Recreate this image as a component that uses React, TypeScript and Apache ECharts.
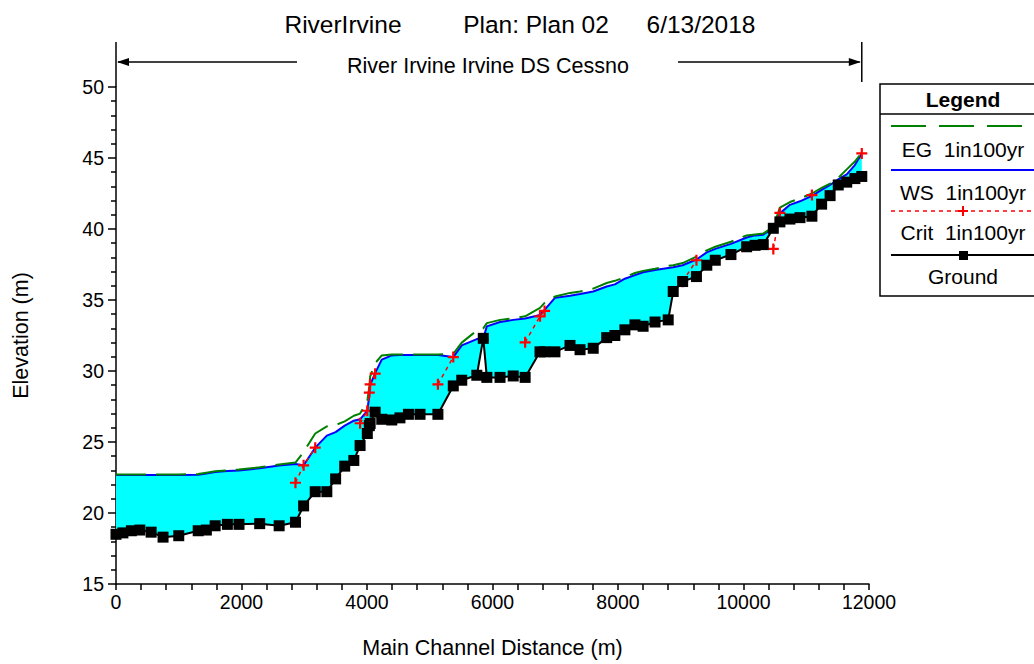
import React, { useEffect, useRef } from "react";
import * as echarts from "echarts";

const FONT = "'Liberation Sans', Arial, sans-serif";

const stations = [
  0, 110, 245, 380, 560, 750, 1000, 1310, 1440, 1580, 1775, 1960, 2290, 2600, 2860,
  2990, 3175, 3360, 3500, 3645, 3790, 3890, 4005, 4037, 4050, 4130, 4235, 4395, 4525,
  4660, 4845, 5130, 5375, 5510, 5750, 5853, 5910, 6120, 6330, 6520, 6757, 6830, 6995,
  7235, 7395, 7605, 7820, 7950, 8110, 8270, 8400, 8590, 8800, 8880, 9030, 9250, 9415,
  9550, 9800, 10050, 10185, 10315, 10475, 10580, 10740, 10900, 11090, 11245, 11380,
  11510, 11645, 11775, 11885,
];

const ground = [
  18.5, 18.6, 18.75, 18.8, 18.65, 18.3, 18.4, 18.75, 18.8, 19.1, 19.2, 19.2, 19.25, 19.1, 19.35,
  20.5, 21.5, 21.5, 22.4, 23.3, 23.7, 24.75, 25.6, 26.15, 26.3, 27.1, 26.6, 26.55, 26.7,
  26.95, 26.95, 26.95, 28.95, 29.35, 29.7, 32.3, 29.55, 29.55, 29.65, 29.55, 31.35, 31.35, 31.35,
  31.8, 31.5, 31.6, 32.35, 32.5, 32.9, 33.25, 33.15, 33.45, 33.6, 35.6, 36.3, 36.65, 37.45,
  37.8, 38.2, 38.75, 38.85, 38.9, 40.05, 40.5, 40.7, 40.8, 40.9, 41.75, 42.35,
  43.1, 43.3, 43.55, 43.7,
];

const ws = [
  22.68, 22.68, 22.68, 22.68, 22.68, 22.68, 22.68, 22.7, 22.78, 22.88, 22.95, 23.0, 23.15, 23.35, 23.45,
  23.36, 24.6, 25.45, 25.7, 26.15, 26.5, 26.6, 27.2, 28.3, 29.0, 29.85, 30.8, 31.1, 31.12,
  31.12, 31.12, 31.12, 30.98, 31.8, 32.25, 32.3, 33.14, 33.45, 33.6, 33.7, 33.95, 34.3, 35.15,
  35.3, 35.42, 35.6, 35.95, 36.1, 36.5, 36.75, 36.95, 37.12, 37.25, 37.3, 37.45, 37.85, 38.35,
  38.6, 38.95, 39.4, 39.55, 39.6, 40.1, 41.1, 41.7, 41.95, 42.33, 42.75, 43.1,
  43.5, 43.85, 44.5, 45.32,
];

const eg = [
  22.71, 22.71, 22.71, 22.71, 22.71, 22.71, 22.71, 22.74, 22.84, 22.94, 23.0, 23.06, 23.22, 23.42, 23.55,
  24.3, 25.6, 26.1, 26.2, 26.45, 26.85, 27.0, 27.9, 28.9, 29.6, 30.55, 31.1, 31.16, 31.16,
  31.16, 31.16, 31.16, 31.2, 32.0, 32.85, 33.0, 33.37, 33.6, 33.72, 33.85, 34.45, 34.8, 35.24,
  35.5, 35.6, 35.8, 36.2, 36.35, 36.6, 36.9, 37.05, 37.2, 37.4, 37.45, 37.6, 38.05, 38.5,
  38.75, 39.1, 39.55, 39.62, 39.68, 40.15, 41.5, 41.9, 42.15, 42.5, 42.9, 43.2,
  43.6, 44.2, 44.75, 45.37,
];

const N = null;
const crit = [
  N, N, N, N, N, N, N, N, N, N, N, N, N, N, 22.13,
  23.36, 24.6, N, N, N, N, 26.32, 27.2, 28.48, 29.06, 29.81, N, N, N,
  N, N, 29.06, 30.98, N, N, 32.2, N, N, N, 32.02, 33.85, 34.23, N,
  N, N, N, N, N, N, N, N, N, N, N, 36.29, 37.8, N,
  N, N, N, N, N, 38.6, 41.13, N, N, 42.39, N, N,
  N, N, N, 45.32,
];

const titleParts = ["RiverIrvine", "Plan: Plan 02", "6/13/2018"];
const reachLabel = "River Irvine Irvine DS Cessno";
const legendItems = ["EG  1in100yr", "WS  1in100yr", "Crit  1in100yr", "Ground"];

const PLUS = "path://M4,0H6V4H10V6H6V10H4V6H0V4H4Z";

export default function App() {
  const ref = useRef<HTMLDivElement>(null);

  useEffect(() => {
    if (!ref.current) return;
    const chart = echarts.init(ref.current, null, { renderer: "svg" });
    const pairs = (ys: (number | null)[]) =>
      stations.map((x, i) => [x, ys[i] == null ? "-" : ys[i]]);

    const option: any = {
      animation: false,
      grid: { left: 116, width: 753, top: 87, height: 501, containLabel: false },
      xAxis: {
        type: "value",
        min: 0,
        max: 12000,
        interval: 2000,
        name: "Main Channel Distance (m)",
        nameLocation: "middle",
        nameGap: 53,
        nameTextStyle: { color: "#000", fontSize: 21.5, fontFamily: FONT },
        axisLine: { show: true, lineStyle: { color: "#000", width: 1.5 } },
        axisTick: { show: true, inside: false, length: 6, lineStyle: { color: "#000", width: 1.5 } },
        minorTick: { show: true, splitNumber: 5, length: 6, lineStyle: { color: "#000", width: 1.5 } },
        splitLine: { show: false },
        axisLabel: { color: "#000", fontSize: 19.5, fontFamily: FONT, margin: 8, formatter: (v: number) => String(v) },
      },
      yAxis: {
        type: "value",
        min: 15,
        max: 50,
        interval: 5,
        name: "Elevation (m)",
        nameLocation: "middle",
        nameGap: 84,
        nameTextStyle: { color: "#000", fontSize: 21.5, fontFamily: FONT },
        axisLine: { show: true, lineStyle: { color: "#000", width: 1.5 } },
        axisTick: { show: true, inside: false, length: 8, lineStyle: { color: "#000", width: 1.5 } },
        minorTick: { show: true, splitNumber: 5, length: 5, lineStyle: { color: "#000", width: 1.5 } },
        splitLine: { show: false },
        axisLabel: { color: "#000", fontSize: 19.5, fontFamily: FONT, margin: 12, formatter: (v: number) => String(v) },
      },
      series: [
        {
          name: "flow area",
          type: "custom",
          silent: true,
          clip: true,
          data: [0],
          renderItem: (params: any, api: any) => {
            const top = stations.map((x, i) => api.coord([x, ws[i]]));
            const bottom = stations.map((x, i) => api.coord([x, ground[i]])).reverse();
            return {
              type: "polygon",
              shape: { points: top.concat(bottom) },
              style: { fill: "#00ffff", stroke: "none" },
            };
          },
          z: 1,
        },
        {
          name: "WS 1in100yr",
          type: "line",
          data: pairs(ws),
          symbol: "none",
          silent: true,
          lineStyle: { color: "#0000ff", width: 2 },
          z: 3,
        },
        {
          name: "EG 1in100yr",
          type: "line",
          data: pairs(eg),
          symbol: "none",
          silent: true,
          lineStyle: { color: "#008000", width: 2, type: [30, 10] },
          z: 4,
        },
        {
          name: "Crit 1in100yr",
          type: "line",
          data: pairs(crit),
          connectNulls: false,
          symbol: PLUS,
          symbolSize: 11,
          showAllSymbol: true,
          clip: false,
          silent: true,
          itemStyle: { color: "#ff0000" },
          lineStyle: { color: "#ff0000", width: 1.5, type: [4, 4] },
          z: 5,
        },
        {
          name: "Ground",
          type: "line",
          data: pairs(ground),
          symbol: "rect",
          symbolSize: 11,
          showAllSymbol: true,
          clip: false,
          silent: true,
          itemStyle: { color: "#000" },
          lineStyle: { color: "#000", width: 2 },
          z: 6,
        },
      ],
    };
    chart.setOption(option);

    const [xL, yTop] = chart.convertToPixel({ gridIndex: 0 }, [0, 50]) as number[];
    const [xR] = chart.convertToPixel({ gridIndex: 0 }, [stations[stations.length - 1], 50]) as number[];
    const arrowY = 62;
    const lx = 880;
    const lw = 170;
    const cx = 963;
    const lineStart = 891;
    const lineEnd = 1034;
    const tStyle = (text: string) => ({
      text,
      fontSize: 24.5,
      fontFamily: FONT,
      fill: "#000",
      align: "center",
      verticalAlign: "middle",
    });

    const graphic: any[] = [
      // title
      { type: "text", x: 343, y: 24, style: tStyle(titleParts[0]) },
      { type: "text", x: 536, y: 24, style: tStyle(titleParts[1]) },
      { type: "text", x: 701, y: 24, style: tStyle(titleParts[2]) },
      // reach marker
      { type: "line", shape: { x1: xL, y1: 42, x2: xL, y2: yTop }, style: { stroke: "#000", lineWidth: 1.5 } },
      { type: "line", shape: { x1: xR, y1: 42, x2: xR, y2: 82 }, style: { stroke: "#000", lineWidth: 1.5 } },
      { type: "line", shape: { x1: xL + 2, y1: arrowY, x2: 297, y2: arrowY }, style: { stroke: "#000", lineWidth: 1.5 } },
      { type: "line", shape: { x1: 678, y1: arrowY, x2: xR - 2, y2: arrowY }, style: { stroke: "#000", lineWidth: 1.5 } },
      { type: "polygon", shape: { points: [[xL + 1, arrowY], [xL + 13, arrowY - 4], [xL + 13, arrowY + 4]] }, style: { fill: "#000" } },
      { type: "polygon", shape: { points: [[xR - 1, arrowY], [xR - 13, arrowY - 4], [xR - 13, arrowY + 4]] }, style: { fill: "#000" } },
      {
        type: "text",
        x: 488,
        y: 66,
        style: { text: reachLabel, fontSize: 21.5, fontFamily: FONT, fill: "#000", align: "center", verticalAlign: "middle" },
      },
      // legend box
      { type: "rect", shape: { x: lx, y: 84, width: lw, height: 212 }, style: { fill: "#fff", stroke: "#000", lineWidth: 1.5 }, z: 10 },
      { type: "line", shape: { x1: lx, y1: 114, x2: lx + lw, y2: 114 }, style: { stroke: "#000", lineWidth: 1.5 }, z: 11 },
      { type: "text", x: cx, y: 99, style: { text: "Legend", fontSize: 21, fontWeight: "bold", fontFamily: FONT, fill: "#000", align: "center", verticalAlign: "middle" }, z: 11 },
      // EG
      { type: "line", shape: { x1: lineStart, y1: 126, x2: lineEnd, y2: 126 }, style: { stroke: "#008000", lineWidth: 2, lineDash: [35, 13] }, z: 11 },
      { type: "text", x: cx, y: 149, style: { text: legendItems[0], fontSize: 21, fontFamily: FONT, fill: "#000", align: "center", verticalAlign: "middle" }, z: 11 },
      // WS
      { type: "line", shape: { x1: lineStart, y1: 170, x2: lineEnd, y2: 170 }, style: { stroke: "#0000ff", lineWidth: 2 }, z: 11 },
      { type: "text", x: cx, y: 192, style: { text: legendItems[1], fontSize: 21, fontFamily: FONT, fill: "#000", align: "center", verticalAlign: "middle" }, z: 11 },
      // Crit
      { type: "line", shape: { x1: lineStart, y1: 211, x2: lineEnd, y2: 211 }, style: { stroke: "#ff0000", lineWidth: 1.5, lineDash: [4, 4] }, z: 11 },
      { type: "rect", shape: { x: cx - 5, y: 210, width: 10, height: 2 }, style: { fill: "#ff0000" }, z: 12 },
      { type: "rect", shape: { x: cx - 1, y: 206, width: 2, height: 10 }, style: { fill: "#ff0000" }, z: 12 },
      { type: "text", x: cx, y: 232, style: { text: legendItems[2], fontSize: 21, fontFamily: FONT, fill: "#000", align: "center", verticalAlign: "middle" }, z: 11 },
      // Ground
      { type: "line", shape: { x1: lineStart, y1: 255, x2: lineEnd, y2: 255 }, style: { stroke: "#000", lineWidth: 2 }, z: 11 },
      { type: "rect", shape: { x: cx - 4, y: 251, width: 9, height: 9 }, style: { fill: "#000" }, z: 12 },
      { type: "text", x: cx, y: 276, style: { text: legendItems[3], fontSize: 21, fontFamily: FONT, fill: "#000", align: "center", verticalAlign: "middle" }, z: 11 },
    ];
    chart.setOption({ graphic });

    return () => chart.dispose();
  }, []);

  return (
    <div
      ref={ref}
      style={{ position: "fixed", left: 0, top: 0, width: 1034, height: 664, background: "#fff" }}
    />
  );
}
